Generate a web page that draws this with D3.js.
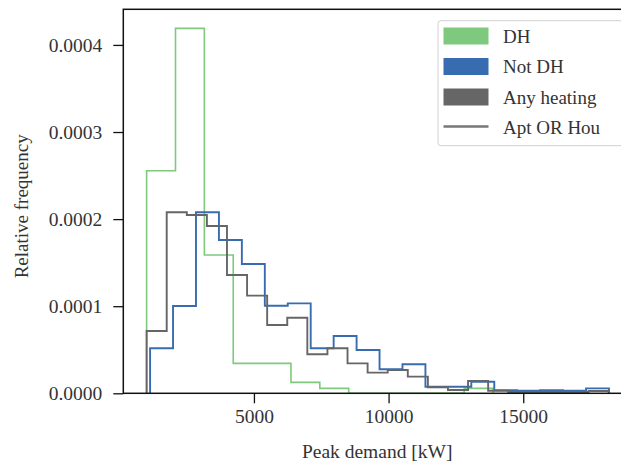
<!DOCTYPE html>
<html>
<head>
<meta charset="utf-8">
<script src="https://cdn.jsdelivr.net/npm/d3@7"></script>
<style>
  html, body { margin: 0; padding: 0; background: #fff; }
  svg text { font-family: "Liberation Serif", "DejaVu Serif", serif; fill: #333; }
</style>
</head>
<body>
<svg id="chart" width="621" height="465"></svg>
<script>
// Histogram bins: first edge and width (kW) per group, then relative frequencies
const dhStart = 1015, dhWidth = 1072;
const dhValues = [0.0002556, 0.000419, 0.0001588, 0.0000344, 0.0000344, 0.0000126,
  0.0000057, 0, 0, 0, 0, 0.0000057];

const notDhStart = 1144, notDhWidth = 852;
const notDhValues = [0.0000517, 0.0001002, 0.0002078, 0.000176, 0.0001484, 0.0001006,
  0.0001033, 0.0000517, 0.0000658, 0.0000497, 0.0000276, 0.0000333, 0.0000076,
  0.0000076, 0.0000133, 0.0000035, 0.000003, 0.0000035, 0.000003, 0.0000057];

const anyStart = 1015, anyWidth = 746;
const anyValues = [0.0000715, 0.0002078, 0.0002047, 0.0001921, 0.0001358, 0.0001121,
  0.0000784, 0.0000868, 0.0000448, 0.0000517, 0.0000344, 0.0000237, 0.0000267,
  0.0000191, 0.0000069, 0.0000038, 0.0000141, 0.000003, 0.0000015, 0.0000015,
  0.0000015, 0.0000015, 0.0000026];

const xTicks = [5000, 10000, 15000];
const yTicks = [0, 0.0001, 0.0002, 0.0003, 0.0004];
const legendLabels = ["DH", "Not DH", "Any heating", "Apt OR Hou"];
const colors = { dh: "#7fc97f", notDh: "#386cb0", any: "#666666", line: "#777777" };

const svg = d3.select("#chart");
const x = d3.scaleLinear().domain([149, 19087]).range([123.3, 633.3]);
const y = d3.scaleLinear().domain([0, 0.0004409]).range([393.3, 9.3]);

// Step outline for a histogram: rise at first edge, fall at last edge
function stepPath(start, width, values) {
  const pts = [[start, 0]];
  values.forEach((v, i) => pts.push([start + i * width, v]));
  pts.push([start + values.length * width, 0]);
  return d3.line().x(d => x(d[0])).y(d => y(d[1])).curve(d3.curveStepAfter)(pts);
}

const series = [
  { start: dhStart, width: dhWidth, values: dhValues, color: colors.dh, lw: 1.6 },
  { start: notDhStart, width: notDhWidth, values: notDhValues, color: colors.notDh, lw: 1.9 },
  { start: anyStart, width: anyWidth, values: anyValues, color: colors.any, lw: 1.9 }
];
svg.append("g").selectAll("path").data(series).join("path")
  .attr("d", d => stepPath(d.start, d.width, d.values))
  .attr("fill", "none")
  .attr("stroke", d => d.color)
  .attr("stroke-width", d => d.lw)
  .attr("stroke-linejoin", "miter");

// Axes
const xAxis = svg.append("g").attr("transform", `translate(0,${y.range()[0]})`)
  .call(d3.axisBottom(x).tickValues(xTicks).tickFormat(d3.format("d")).tickSize(10).tickPadding(6));
const yAxis = svg.append("g").attr("transform", `translate(${x.range()[0]},0)`)
  .call(d3.axisLeft(y).tickValues(yTicks).tickFormat(d3.format(".4f")).tickSize(10).tickPadding(11));
[xAxis, yAxis].forEach(g => {
  g.select(".domain").remove();
  g.selectAll(".tick line").attr("stroke", "#111").attr("stroke-width", 1.3);
  g.selectAll(".tick text").attr("font-size", 19.5).attr("font-family", "Liberation Serif").attr("fill", "#333");
});

// Frame (right side lies past the page edge)
svg.append("rect")
  .attr("x", x.range()[0]).attr("y", y.range()[1])
  .attr("width", x.range()[1] - x.range()[0]).attr("height", y.range()[0] - y.range()[1])
  .attr("fill", "none").attr("stroke", "#111").attr("stroke-width", 1.5);

// Axis titles
svg.append("text").attr("x", (123.3 + 621) / 2 + 5).attr("y", 458)
  .attr("text-anchor", "middle").attr("font-size", 19.5).text("Peak demand [kW]");
svg.append("text")
  .attr("transform", `translate(28,${(y.range()[0] + y.range()[1]) / 2 + 5}) rotate(-90)`)
  .attr("text-anchor", "middle").attr("font-size", 19).text("Relative frequency");

// Legend
const lg = svg.append("g");
lg.append("rect").attr("x", 438).attr("y", 20.7).attr("width", 185).attr("height", 125)
  .attr("rx", 3).attr("fill", "#fff").attr("fill-opacity", 0.85)
  .attr("stroke", "#d0d0d0").attr("stroke-width", 1);
const rowY = [36, 66.5, 97, 127];
const swatch = [colors.dh, colors.notDh, colors.any, null];
legendLabels.forEach((lab, i) => {
  if (swatch[i]) {
    lg.append("rect").attr("x", 443.5).attr("y", rowY[i] - 8.5).attr("width", 45).attr("height", 17)
      .attr("fill", swatch[i]);
  } else {
    lg.append("line").attr("x1", 443.5).attr("x2", 488.5).attr("y1", rowY[i] - 0.5).attr("y2", rowY[i] - 0.5)
      .attr("stroke", colors.line).attr("stroke-width", 2.5);
  }
  lg.append("text").attr("x", 503).attr("y", rowY[i] + 6.5).attr("font-size", 19).text(lab);
});
</script>
</body>
</html>
